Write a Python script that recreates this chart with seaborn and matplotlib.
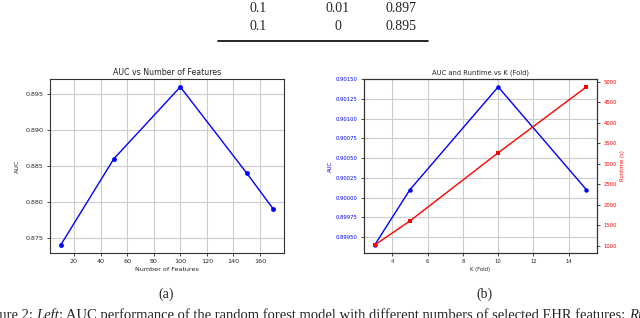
import matplotlib
matplotlib.use("Agg")
import matplotlib.pyplot as plt
import seaborn as sns
import pandas as pd

# ---- data ----
n_features = [10, 50, 100, 150, 170]
auc_features = [0.874, 0.886, 0.896, 0.884, 0.879]

k_fold = [3, 5, 10, 15]
auc_k = [0.89940, 0.90010, 0.90140, 0.90010]
runtime_k = [1010, 1600, 3265, 4875]

table_rows = [["0.1", "0.01", "0.897"], ["0.1", "0", "0.895"]]
caption_a = "(a)"
caption_b = "(b)"
caption_parts = [("Figure 2: ", "normal"), ("Left", "italic"),
                 (": AUC performance of the random forest model with different numbers of "
                  "selected EHR features; ", "normal"),
                 ("Right", "italic"), (": AUC and runtime", "normal")]

sns.set_style("white")
plt.rcParams["font.family"] = ["DejaVu Sans"]

W, H = 640, 318
fig = plt.figure(figsize=(W / 100, H / 100), dpi=100)


def ax_rect(x0, y0, x1, y1):
    return [x0 / W, 1 - y1 / H, (x1 - x0) / W, (y1 - y0) / H]


def style_axes(ax, fs):
    ax.grid(True, color="#cccccc", linewidth=0.8)
    for s in ax.spines.values():
        s.set_color("#333333")
        s.set_linewidth(0.8)
    ax.tick_params(axis="both", length=2.5, width=0.6, labelsize=fs, pad=2,
                   direction="out", bottom=True, left=True)


# ---- left plot ----
ax1 = fig.add_axes(ax_rect(50, 79, 284, 253))
df1 = pd.DataFrame({"n": n_features, "auc": auc_features})
sns.lineplot(data=df1, x="n", y="auc", ax=ax1, color="blue", marker="o",
             markersize=3.5, markeredgewidth=0, linewidth=1)
style_axes(ax1, 4.6)
ax1.set_title("AUC vs Number of Features", fontsize=5.7, pad=3)
ax1.set_xlabel("Number of Features", fontsize=4.6, labelpad=2)
ax1.set_ylabel("AUC", fontsize=4.6, labelpad=4)
ax1.set_xticks([20, 40, 60, 80, 100, 120, 140, 160])
yt1 = [0.875, 0.880, 0.885, 0.890, 0.895]
ax1.set_yticks(yt1)
ax1.set_yticklabels([f"{v:.3f}" for v in yt1])

# ---- right plot ----
ax2 = fig.add_axes(ax_rect(364, 79, 597, 253))
df2 = pd.DataFrame({"k": k_fold, "auc": auc_k, "rt": runtime_k})
sns.lineplot(data=df2, x="k", y="auc", ax=ax2, color="blue", marker="o",
             markersize=3.2, markeredgewidth=0, linewidth=1)
style_axes(ax2, 3.8)
ax2.set_xticks([4, 6, 8, 10, 12, 14])
ax2.tick_params(axis="x", labelsize=3.8)
yt = [0.8995, 0.89975, 0.9, 0.90025, 0.9005, 0.90075, 0.901, 0.90125, 0.9015]
ax2.set_yticks(yt)
ax2.set_yticklabels([f"{v:.5f}" for v in yt], color="blue")
ax2.set_ylim(0.8993, 0.9015)
ax2.set_title("AUC and Runtime vs K (Fold)", fontsize=4.9, pad=3)
ax2.set_xlabel("K (Fold)", fontsize=3.8, labelpad=2)
ax2.set_ylabel("AUC", fontsize=3.8, color="blue", labelpad=2)

ax3 = ax2.twinx()
sns.lineplot(data=df2, x="k", y="rt", ax=ax3, color="red", marker="s",
             markersize=3.2, markeredgewidth=0, linewidth=1)
ax3.set_ylabel("Runtime (s)", fontsize=3.8, color="red", labelpad=2)
ax3.set_yticks([1000, 1500, 2000, 2500, 3000, 3500, 4000, 4500, 5000])
ax3.tick_params(axis="y", labelsize=3.8, labelcolor="red", length=2.5, width=0.6, pad=2,
                right=True)
ax3.grid(False)
ax3.set_xlabel("")
for s in ax3.spines.values():
    s.set_color("#333333")
    s.set_linewidth(0.8)

# ---- table fragment ----
serif = ["Liberation Serif", "DejaVu Serif"]
col_x = [258, 338, 401]
row_y = [8, 27]
for r, row in enumerate(table_rows):
    for c, txt in enumerate(row):
        fig.text(col_x[c] / W, 1 - row_y[r] / H, txt, ha="center", va="center",
                 fontsize=10, family=serif)
fig.add_artist(plt.Line2D([218 / W, 428 / W], [1 - 41 / H, 1 - 41 / H],
                          color="black", linewidth=1.2))

# ---- captions ----
fig.text(166 / W, 1 - 294 / H, caption_a, ha="center", va="center", fontsize=10, family=serif)
fig.text(484 / W, 1 - 294 / H, caption_b, ha="center", va="center", fontsize=10, family=serif)

renderer = fig.canvas.get_renderer()
x = -20.0
for txt, style in caption_parts:
    t = fig.text(x / W, 1 - 315 / H, txt, ha="left", va="center", fontsize=10.5,
                 family=serif, style=style)
    bb = t.get_window_extent(renderer=renderer)
    x += bb.width

fig.savefig("out.png", dpi=100)
